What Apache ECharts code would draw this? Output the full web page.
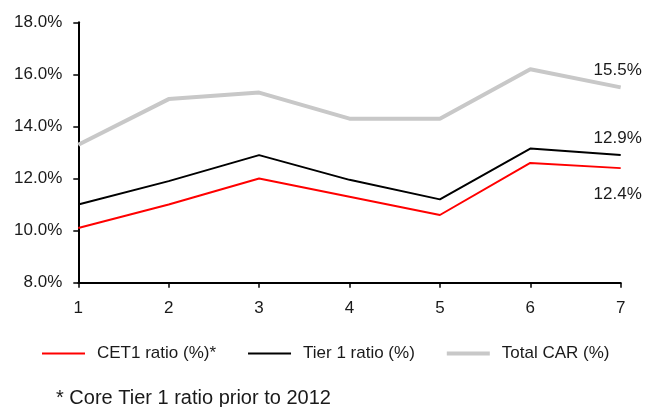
<!DOCTYPE html>
<html>
<head>
<meta charset="utf-8">
<script src="https://cdn.jsdelivr.net/npm/echarts@6/dist/echarts.min.js"></script>
<style>
html,body{margin:0;padding:0;background:#fff;}
#chart{width:655px;height:407px;}
</style>
</head>
<body>
<div id="chart"></div>
<script>
var categories = ['1', '2', '3', '4', '5', '6', '7'];
var cet1 = [10.1, 11.0, 12.0, 11.3, 10.6, 12.6, 12.4];
var tier1 = [11.0, 11.9, 12.9, 11.95, 11.2, 13.15, 12.9];
var totalCar = [13.3, 15.05, 15.3, 14.3, 14.3, 16.2, 15.5];
var seriesNames = ['CET1 ratio (%)*', 'Tier 1 ratio (%)', 'Total CAR (%)'];
var footnote = '* Core Tier 1 ratio prior to 2012';

var FONT = '"Liberation Sans", Arial, sans-serif';

function lastLabeled(arr, pos, dist) {
  return arr.map(function (v, i) {
    if (i !== arr.length - 1) return v;
    return {
      value: v,
      label: {
        show: true,
        position: pos,
        distance: dist,
        offset: [-3, 0],
        formatter: function (p) { return p.value.toFixed(1) + '%'; },
        fontFamily: FONT,
        fontSize: 17,
        color: '#1a1a1a'
      }
    };
  });
}

var chart = echarts.init(document.getElementById('chart'), null, {renderer: 'canvas'});
chart.setOption({
  animation: false,
  backgroundColor: '#ffffff',
  title: {
    text: footnote,
    left: 56,
    top: 388,
    textStyle: {fontFamily: FONT, fontSize: 20, fontWeight: 'normal', color: '#1a1a1a'},
    padding: 0
  },
  legend: {
    left: 42,
    top: 345,
    itemWidth: 43,
    itemHeight: 14,
    itemGap: 32,
    padding: 0,
    symbolKeepAspect: true,
    textStyle: {fontFamily: FONT, fontSize: 17, color: '#1a1a1a', padding: [0, 0, 0, 7]},
    data: [
      {name: seriesNames[0], icon: 'path://M0,0H43V2H0Z'},
      {name: seriesNames[1], icon: 'path://M0,0H43V2H0Z'},
      {name: seriesNames[2], icon: 'path://M0,0H43V4H0Z'}
    ]
  },
  grid: {left: 78.3, right: 34.3, top: 22.3, bottom: 124.3, containLabel: false},
  xAxis: {
    type: 'category',
    data: categories,
    boundaryGap: false,
    axisLine: {lineStyle: {color: '#000', width: 2}},
    axisTick: {show: true, length: 5, lineStyle: {color: '#000', width: 1.5}},
    axisLabel: {fontFamily: FONT, fontSize: 17, color: '#1a1a1a', margin: 17}
  },
  yAxis: {
    type: 'value',
    min: 8,
    max: 18,
    interval: 2,
    splitLine: {show: false},
    axisLine: {show: true, lineStyle: {color: '#000', width: 2}},
    axisTick: {show: true, length: 5, lineStyle: {color: '#000', width: 1.5}},
    axisLabel: {
      fontFamily: FONT, fontSize: 17, color: '#1a1a1a', margin: 16,
      formatter: function (v) { return v.toFixed(1) + '%'; }
    }
  },
  series: [
    {
      name: seriesNames[0], type: 'line', symbol: 'circle', symbolSize: 0, showSymbol: true,
      lineStyle: {color: '#ff0000', width: 2},
      itemStyle: {color: '#ff0000'},
      data: lastLabeled(cet1, 'bottom', 18), z: 4
    },
    {
      name: seriesNames[1], type: 'line', symbol: 'circle', symbolSize: 0, showSymbol: true,
      lineStyle: {color: '#000000', width: 2},
      itemStyle: {color: '#000000'},
      data: lastLabeled(tier1, 'top', 8), z: 3
    },
    {
      name: seriesNames[2], type: 'line', symbol: 'circle', symbolSize: 0, showSymbol: true,
      lineStyle: {color: '#c8c8c8', width: 4},
      itemStyle: {color: '#c8c8c8'},
      data: lastLabeled(totalCar, 'top', 9), z: 2
    }
  ]
});
</script>
</body>
</html>
